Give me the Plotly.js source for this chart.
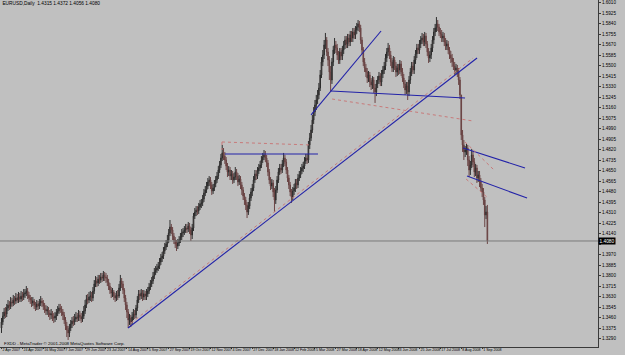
<!DOCTYPE html>
<html><head><meta charset="utf-8">
<script src="https://cdn.plot.ly/plotly-3.0.1.min.js"></script>
<style>html,body{margin:0;padding:0;background:#c0c0c0;}#chart{width:625px;height:355px;}</style>
</head><body><div id="chart"></div>
<script>
const symbolTitle = "EURUSD,Daily";
const dateLabels = ["2 Apr 2007","24 Apr 2007","16 May 2007","7 Jun 2007","29 Jun 2007","23 Jul 2007","14 Aug 2007","5 Sep 2007","27 Sep 2007","19 Oct 2007","12 Nov 2007","4 Dec 2007","27 Dec 2007","18 Jan 2008","12 Feb 2008","5 Mar 2008","27 Mar 2008","18 Apr 2008","12 May 2008","3 Jun 2008","25 Jun 2008","17 Jul 2008","8 Aug 2008","1 Sep 2008"];
const labelBars = [0,16,32,48,64,80,96,112,128,144,160,176,192,208,224,240,256,272,288,304,320,336,352,368];
const priceTicks = [1.6010,1.5925,1.5840,1.5755,1.5670,1.5585,1.5500,1.5415,1.5330,1.5245,1.5160,1.5075,1.4990,1.4905,1.4820,1.4735,1.4650,1.4565,1.4480,1.4395,1.4310,1.4225,1.4140,1.4055,1.3970,1.3885,1.3800,1.3715,1.3630,1.3545,1.3460,1.3375,1.3290,1.3205];

const openP = [
1.3375,1.3424,1.3472,1.3505,1.3489,1.3537,1.3562,1.3553,1.3586,1.3578,1.3602,1.3594,1.3618,1.3602,1.3626,1.3610,
1.3634,1.3626,1.3651,1.3659,1.3675,1.3643,1.3618,1.3602,1.3578,1.3594,1.3562,1.3545,1.3570,1.3553,1.3578,1.3594,
1.3578,1.3553,1.3529,1.3513,1.3521,1.3497,1.3481,1.3489,1.3464,1.3456,1.3472,1.3497,1.3513,1.3537,1.3529,1.3505,
1.3481,1.3440,1.3391,1.3359,1.3335,1.3375,1.3408,1.3432,1.3424,1.3448,1.3464,1.3456,1.3481,1.3464,1.3448,1.3472,
1.3513,1.3562,1.3610,1.3602,1.3626,1.3634,1.3618,1.3675,1.3732,1.3756,1.3740,1.3772,1.3764,1.3788,1.3780,1.3805,
1.3788,1.3780,1.3748,1.3715,1.3683,1.3659,1.3667,1.3634,1.3618,1.3643,1.3634,1.3699,1.3756,1.3732,1.3683,1.3618,
1.3562,1.3505,1.3440,1.3456,1.3424,1.3464,1.3489,1.3481,1.3537,1.3602,1.3651,1.3634,1.3659,1.3626,1.3651,1.3634,
1.3651,1.3675,1.3707,1.3732,1.3756,1.3796,1.3829,1.3845,1.3861,1.3877,1.3910,1.3942,1.3958,1.3999,1.4031,1.4056,
1.4088,1.4145,1.4193,1.4169,1.4120,1.4088,1.4056,1.4039,1.4064,1.4088,1.4112,1.4145,1.4153,1.4169,1.4185,1.4177,
1.4201,1.4169,1.4129,1.4185,1.4282,1.4315,1.4331,1.4323,1.4355,1.4380,1.4388,1.4420,1.4469,1.4493,1.4525,1.4558,
1.4574,1.4534,1.4485,1.4509,1.4542,1.4574,1.4606,1.4655,1.4696,1.4752,1.4793,1.4768,1.4736,1.4687,1.4639,1.4655,
1.4606,1.4623,1.4574,1.4598,1.4639,1.4606,1.4558,1.4582,1.4534,1.4493,1.4444,1.4412,1.4372,1.4315,1.4363,1.4428,
1.4477,1.4509,1.4574,1.4623,1.4606,1.4647,1.4671,1.4696,1.4736,1.4760,1.4777,1.4752,1.4712,1.4639,1.4574,1.4525,
1.4550,1.4477,1.4412,1.4493,1.4574,1.4639,1.4671,1.4655,1.4704,1.4752,1.4720,1.4655,1.4590,1.4534,1.4477,1.4436,
1.4485,1.4509,1.4550,1.4534,1.4590,1.4615,1.4647,1.4671,1.4687,1.4728,1.4752,1.4736,1.4858,1.4914,1.4979,1.5060,
1.5125,1.5182,1.5222,1.5263,1.5319,1.5425,1.5530,1.5587,1.5668,1.5708,1.5611,1.5546,1.5449,1.5384,1.5530,1.5627,
1.5668,1.5643,1.5587,1.5546,1.5611,1.5578,1.5627,1.5668,1.5708,1.5676,1.5724,1.5692,1.5749,1.5724,1.5773,1.5749,
1.5789,1.5813,1.5838,1.5805,1.5708,1.5627,1.5530,1.5481,1.5449,1.5400,1.5425,1.5368,1.5344,1.5384,1.5319,1.5287,
1.5352,1.5384,1.5416,1.5368,1.5433,1.5465,1.5497,1.5562,1.5611,1.5643,1.5587,1.5530,1.5481,1.5546,1.5497,1.5449,
1.5481,1.5465,1.5514,1.5449,1.5400,1.5352,1.5303,1.5335,1.5287,1.5384,1.5449,1.5497,1.5465,1.5546,1.5595,1.5643,
1.5627,1.5676,1.5708,1.5724,1.5692,1.5740,1.5676,1.5611,1.5562,1.5587,1.5643,1.5708,1.5773,1.5805,1.5838,1.5813,
1.5773,1.5757,1.5724,1.5740,1.5692,1.5659,1.5676,1.5627,1.5587,1.5562,1.5530,1.5497,1.5465,1.5481,1.5449,1.5384,
1.5263,1.4939,1.4858,1.4801,1.4817,1.4833,1.4736,1.4655,1.4696,1.4777,1.4720,1.4639,1.4671,1.4590,1.4615,1.4558,
1.4509,1.4477,1.4412,1.4291,1.4315];
const highP = [
1.3456,1.3505,1.3537,1.3545,1.3570,1.3602,1.3594,1.3626,1.3618,1.3643,1.3634,1.3659,1.3651,1.3667,1.3659,1.3675,
1.3667,1.3691,1.3691,1.3715,1.3699,1.3667,1.3643,1.3626,1.3626,1.3610,1.3586,1.3602,1.3594,1.3610,1.3634,1.3618,
1.3602,1.3578,1.3562,1.3553,1.3545,1.3521,1.3529,1.3513,1.3497,1.3505,1.3529,1.3553,1.3570,1.3570,1.3553,1.3529,
1.3505,1.3464,1.3424,1.3391,1.3408,1.3440,1.3464,1.3472,1.3489,1.3505,1.3497,1.3521,1.3513,1.3497,1.3513,1.3553,
1.3602,1.3643,1.3651,1.3667,1.3675,1.3667,1.3707,1.3764,1.3796,1.3788,1.3805,1.3805,1.3821,1.3821,1.3837,1.3829,
1.3821,1.3805,1.3772,1.3740,1.3707,1.3699,1.3683,1.3659,1.3675,1.3683,1.3732,1.3805,1.3780,1.3756,1.3699,1.3643,
1.3586,1.3529,1.3489,1.3481,1.3505,1.3529,1.3521,1.3562,1.3634,1.3683,1.3683,1.3691,1.3683,1.3683,1.3675,1.3691,
1.3707,1.3740,1.3764,1.3788,1.3829,1.3861,1.3877,1.3894,1.3910,1.3942,1.3975,1.3991,1.4031,1.4064,1.4088,1.4129,
1.4177,1.4250,1.4218,1.4193,1.4145,1.4112,1.4088,1.4096,1.4120,1.4145,1.4177,1.4185,1.4201,1.4218,1.4218,1.4234,
1.4226,1.4193,1.4218,1.4307,1.4347,1.4363,1.4363,1.4388,1.4412,1.4420,1.4453,1.4501,1.4525,1.4558,1.4590,1.4606,
1.4598,1.4558,1.4542,1.4574,1.4606,1.4639,1.4687,1.4728,1.4785,1.4858,1.4833,1.4801,1.4760,1.4712,1.4687,1.4679,
1.4655,1.4647,1.4631,1.4679,1.4663,1.4631,1.4615,1.4606,1.4558,1.4517,1.4469,1.4436,1.4396,1.4396,1.4461,1.4509,
1.4542,1.4606,1.4655,1.4655,1.4679,1.4704,1.4728,1.4768,1.4793,1.4817,1.4809,1.4777,1.4736,1.4663,1.4598,1.4582,
1.4574,1.4509,1.4525,1.4606,1.4671,1.4704,1.4704,1.4736,1.4793,1.4777,1.4744,1.4679,1.4615,1.4558,1.4501,1.4517,
1.4542,1.4582,1.4582,1.4623,1.4647,1.4679,1.4704,1.4720,1.4760,1.4785,1.4785,1.4890,1.4955,1.5020,1.5101,1.5165,
1.5222,1.5263,1.5303,1.5360,1.5465,1.5570,1.5627,1.5708,1.5765,1.5732,1.5643,1.5578,1.5497,1.5562,1.5659,1.5724,
1.5700,1.5676,1.5619,1.5643,1.5643,1.5659,1.5700,1.5740,1.5740,1.5757,1.5757,1.5781,1.5781,1.5805,1.5805,1.5821,
1.5846,1.5870,1.5862,1.5830,1.5732,1.5651,1.5562,1.5514,1.5481,1.5457,1.5449,1.5400,1.5416,1.5408,1.5352,1.5384,
1.5416,1.5449,1.5441,1.5465,1.5497,1.5530,1.5595,1.5643,1.5684,1.5668,1.5619,1.5562,1.5578,1.5570,1.5530,1.5514,
1.5514,1.5546,1.5538,1.5481,1.5433,1.5384,1.5368,1.5368,1.5416,1.5481,1.5530,1.5530,1.5578,1.5627,1.5676,1.5676,
1.5708,1.5740,1.5765,1.5757,1.5773,1.5765,1.5700,1.5643,1.5619,1.5676,1.5740,1.5805,1.5838,1.5894,1.5870,1.5838,
1.5805,1.5789,1.5773,1.5765,1.5724,1.5708,1.5700,1.5651,1.5619,1.5595,1.5562,1.5530,1.5514,1.5506,1.5481,1.5408,
1.5263,1.4979,1.4898,1.4849,1.4866,1.4858,1.4768,1.4728,1.4825,1.4809,1.4752,1.4704,1.4696,1.4647,1.4647,1.4590,
1.4542,1.4509,1.4436,1.4363,1.4372];
const lowP = [
1.3335,1.3400,1.3448,1.3456,1.3464,1.3513,1.3521,1.3529,1.3545,1.3553,1.3562,1.3570,1.3578,1.3578,1.3586,1.3586,
1.3594,1.3602,1.3618,1.3634,1.3610,1.3586,1.3570,1.3545,1.3553,1.3529,1.3513,1.3521,1.3521,1.3529,1.3553,1.3545,
1.3521,1.3497,1.3481,1.3481,1.3464,1.3440,1.3448,1.3432,1.3416,1.3424,1.3440,1.3472,1.3489,1.3497,1.3472,1.3440,
1.3408,1.3359,1.3302,1.3278,1.3302,1.3351,1.3375,1.3391,1.3400,1.3424,1.3424,1.3432,1.3432,1.3416,1.3424,1.3448,
1.3489,1.3537,1.3570,1.3578,1.3594,1.3586,1.3594,1.3651,1.3707,1.3707,1.3715,1.3732,1.3740,1.3748,1.3756,1.3756,
1.3740,1.3715,1.3683,1.3651,1.3618,1.3626,1.3602,1.3586,1.3594,1.3602,1.3618,1.3675,1.3699,1.3651,1.3586,1.3521,
1.3456,1.3375,1.3400,1.3383,1.3400,1.3440,1.3448,1.3456,1.3513,1.3578,1.3602,1.3610,1.3594,1.3602,1.3602,1.3602,
1.3626,1.3651,1.3683,1.3707,1.3732,1.3772,1.3805,1.3821,1.3837,1.3853,1.3886,1.3910,1.3934,1.3975,1.4007,1.4031,
1.4064,1.4120,1.4137,1.4088,1.4056,1.4023,1.3999,1.4015,1.4039,1.4064,1.4088,1.4112,1.4129,1.4145,1.4145,1.4153,
1.4137,1.4080,1.4096,1.4161,1.4258,1.4282,1.4291,1.4299,1.4331,1.4347,1.4363,1.4396,1.4444,1.4469,1.4501,1.4525,
1.4501,1.4453,1.4461,1.4485,1.4517,1.4550,1.4582,1.4631,1.4671,1.4728,1.4736,1.4704,1.4655,1.4598,1.4606,1.4574,
1.4574,1.4542,1.4550,1.4574,1.4574,1.4525,1.4534,1.4501,1.4453,1.4412,1.4372,1.4331,1.4266,1.4291,1.4339,1.4404,
1.4444,1.4485,1.4550,1.4574,1.4582,1.4623,1.4647,1.4671,1.4712,1.4736,1.4720,1.4679,1.4606,1.4542,1.4493,1.4501,
1.4436,1.4315,1.4380,1.4469,1.4550,1.4615,1.4623,1.4631,1.4679,1.4687,1.4623,1.4558,1.4501,1.4444,1.4388,1.4412,
1.4453,1.4477,1.4501,1.4509,1.4566,1.4590,1.4623,1.4639,1.4663,1.4704,1.4704,1.4712,1.4825,1.4890,1.4955,1.5028,
1.5092,1.5141,1.5190,1.5230,1.5295,1.5400,1.5497,1.5554,1.5635,1.5578,1.5497,1.5384,1.5287,1.5352,1.5497,1.5595,
1.5603,1.5546,1.5514,1.5514,1.5546,1.5546,1.5595,1.5635,1.5643,1.5643,1.5659,1.5659,1.5692,1.5692,1.5716,1.5716,
1.5757,1.5781,1.5773,1.5676,1.5595,1.5497,1.5449,1.5408,1.5360,1.5368,1.5327,1.5303,1.5311,1.5279,1.5198,1.5254,
1.5319,1.5352,1.5335,1.5335,1.5400,1.5433,1.5465,1.5530,1.5578,1.5554,1.5497,1.5449,1.5449,1.5465,1.5408,1.5416,
1.5425,1.5433,1.5416,1.5368,1.5319,1.5263,1.5271,1.5222,1.5254,1.5352,1.5416,1.5433,1.5433,1.5514,1.5562,1.5595,
1.5595,1.5643,1.5676,1.5659,1.5659,1.5643,1.5578,1.5522,1.5530,1.5554,1.5611,1.5676,1.5740,1.5773,1.5781,1.5740,
1.5724,1.5692,1.5692,1.5659,1.5627,1.5627,1.5595,1.5554,1.5522,1.5489,1.5465,1.5425,1.5433,1.5408,1.5344,1.5230,
1.4898,1.4801,1.4736,1.4760,1.4777,1.4687,1.4598,1.4615,1.4671,1.4679,1.4598,1.4606,1.4550,1.4558,1.4517,1.4477,
1.4436,1.4372,1.4193,1.4258,1.4056];
const closeP = [
1.3424,1.3472,1.3505,1.3489,1.3537,1.3562,1.3553,1.3586,1.3578,1.3602,1.3594,1.3618,1.3602,1.3626,1.3610,1.3634,
1.3626,1.3651,1.3659,1.3675,1.3643,1.3618,1.3602,1.3578,1.3594,1.3562,1.3545,1.3570,1.3553,1.3578,1.3594,1.3578,
1.3553,1.3529,1.3513,1.3521,1.3497,1.3481,1.3489,1.3464,1.3456,1.3472,1.3497,1.3513,1.3537,1.3529,1.3505,1.3481,
1.3440,1.3391,1.3359,1.3335,1.3375,1.3408,1.3432,1.3424,1.3448,1.3464,1.3456,1.3481,1.3464,1.3448,1.3472,1.3513,
1.3562,1.3610,1.3602,1.3626,1.3634,1.3618,1.3675,1.3732,1.3756,1.3740,1.3772,1.3764,1.3788,1.3780,1.3805,1.3788,
1.3780,1.3748,1.3715,1.3683,1.3659,1.3667,1.3634,1.3618,1.3643,1.3634,1.3699,1.3756,1.3732,1.3683,1.3618,1.3562,
1.3505,1.3440,1.3456,1.3424,1.3464,1.3489,1.3481,1.3537,1.3602,1.3651,1.3634,1.3659,1.3626,1.3651,1.3634,1.3651,
1.3675,1.3707,1.3732,1.3756,1.3796,1.3829,1.3845,1.3861,1.3877,1.3910,1.3942,1.3958,1.3999,1.4031,1.4056,1.4088,
1.4145,1.4193,1.4169,1.4120,1.4088,1.4056,1.4039,1.4064,1.4088,1.4112,1.4145,1.4153,1.4169,1.4185,1.4177,1.4201,
1.4169,1.4129,1.4185,1.4282,1.4315,1.4331,1.4323,1.4355,1.4380,1.4388,1.4420,1.4469,1.4493,1.4525,1.4558,1.4574,
1.4534,1.4485,1.4509,1.4542,1.4574,1.4606,1.4655,1.4696,1.4752,1.4793,1.4768,1.4736,1.4687,1.4639,1.4655,1.4606,
1.4623,1.4574,1.4598,1.4639,1.4606,1.4558,1.4582,1.4534,1.4493,1.4444,1.4412,1.4372,1.4315,1.4363,1.4428,1.4477,
1.4509,1.4574,1.4623,1.4606,1.4647,1.4671,1.4696,1.4736,1.4760,1.4777,1.4752,1.4712,1.4639,1.4574,1.4525,1.4550,
1.4477,1.4412,1.4493,1.4574,1.4639,1.4671,1.4655,1.4704,1.4752,1.4720,1.4655,1.4590,1.4534,1.4477,1.4436,1.4485,
1.4509,1.4550,1.4534,1.4590,1.4615,1.4647,1.4671,1.4687,1.4728,1.4752,1.4736,1.4858,1.4914,1.4979,1.5060,1.5125,
1.5182,1.5222,1.5263,1.5319,1.5425,1.5530,1.5587,1.5668,1.5708,1.5611,1.5546,1.5449,1.5384,1.5530,1.5627,1.5668,
1.5643,1.5587,1.5546,1.5611,1.5578,1.5627,1.5668,1.5708,1.5676,1.5724,1.5692,1.5749,1.5724,1.5773,1.5749,1.5789,
1.5813,1.5838,1.5805,1.5708,1.5627,1.5530,1.5481,1.5449,1.5400,1.5425,1.5368,1.5344,1.5384,1.5319,1.5287,1.5352,
1.5384,1.5416,1.5368,1.5433,1.5465,1.5497,1.5562,1.5611,1.5643,1.5587,1.5530,1.5481,1.5546,1.5497,1.5449,1.5481,
1.5465,1.5514,1.5449,1.5400,1.5352,1.5303,1.5335,1.5287,1.5384,1.5449,1.5497,1.5465,1.5546,1.5595,1.5643,1.5627,
1.5676,1.5708,1.5724,1.5692,1.5740,1.5676,1.5611,1.5562,1.5587,1.5643,1.5708,1.5773,1.5805,1.5838,1.5813,1.5773,
1.5757,1.5724,1.5740,1.5692,1.5659,1.5676,1.5627,1.5587,1.5562,1.5530,1.5497,1.5465,1.5481,1.5449,1.5384,1.5263,
1.4939,1.4858,1.4801,1.4817,1.4833,1.4736,1.4655,1.4696,1.4777,1.4720,1.4639,1.4671,1.4590,1.4615,1.4558,1.4509,
1.4477,1.4412,1.4291,1.4315,1.4080];

// hand-drawn trend lines (bar index, price)
const blueFromBar   = [96.9, 237.0, 252.3, 171.1, 353.4, 356.4];
const blueFromPrice = [1.3375, 1.5101, 1.5295, 1.4785, 1.4833, 1.4606];
const blueToBar     = [364.1, 290.6, 354.9, 242.3, 400.8, 402.4];
const blueToPrice   = [1.5562, 1.5781, 1.5238, 1.4785, 1.4671, 1.4428];
const redFromBar    = [99.2, 253.1, 168.8, 168.8, 354.9, 355.7];
const redFromPrice  = [1.3416, 1.5230, 1.4882, 1.4882, 1.4882, 1.4582];
const redToBar      = [361.0, 361.0, 236.2, 168.8, 377.9, 371.7];
const redToPrice    = [1.5562, 1.5052, 1.4858, 1.4817, 1.4647, 1.4436];

const bars = closeP.map((_, i) => i);
const n = closeP.length;
const last = n - 1;
const fmt = v => v.toFixed(4);

const FONT = "Liberation Sans Narrow, Liberation Sans, Arial, sans-serif";

// the bid marker covers the scale label right under it (as in the terminal)
const priceTickText = priceTicks.map(v => Math.abs(v - closeP[last]) < 0.0035 ? '' : fmt(v));

const trace = {
  type: 'candlestick', x: bars, open: openP, high: highP, low: lowP, close: closeP,
  increasing: {line: {color: '#2e2e2e', width: 1}, fillcolor: '#9c7474'},
  decreasing: {line: {color: '#6a4444', width: 1}, fillcolor: '#6a4444'},
  whiskerwidth: 0, hoverinfo: 'skip', showlegend: false
};

const shapes = [];
for (let i = 0; i < blueFromBar.length; i++) {
  shapes.push({type: 'line', xref: 'x', yref: 'y', x0: blueFromBar[i], y0: blueFromPrice[i], x1: blueToBar[i], y1: blueToPrice[i],
    line: {color: '#2222a8', width: 1.1}});
}
for (let i = 0; i < redFromBar.length; i++) {
  shapes.push({type: 'line', xref: 'x', yref: 'y', x0: redFromBar[i], y0: redFromPrice[i], x1: redToBar[i], y1: redToPrice[i],
    line: {color: '#c87a7a', width: 1, dash: 'dot'}});
}
shapes.push({type: 'line', xref: 'paper', yref: 'y', x0: 0, x1: 1, y0: closeP[last], y1: closeP[last], line: {color: '#7a7a7a', width: 1}});

const layout = {
  width: 625, height: 355,
  margin: {l: 0, r: 27, t: 0, b: 8},
  paper_bgcolor: '#c0c0c0', plot_bgcolor: '#c0c0c0',
  font: {family: FONT, size: 4.0, color: '#000'},
  title: {text: symbolTitle + '  ' + fmt(openP[last]) + ' ' + fmt(highP[last]) + ' ' + fmt(lowP[last]) + ' ' + fmt(closeP[last]),
    x: 0.004, xanchor: 'left', xref: 'paper', y: 0.996, yanchor: 'top', yref: 'container',
    font: {family: FONT, size: 4.8, color: '#000'}},
  xaxis: {range: [-1.15, 456.7], tickmode: 'array', tickvals: labelBars, ticktext: dateLabels, tickangle: 0,
    showgrid: false, zeroline: false, showline: true, linecolor: '#3a3a3a', linewidth: 1,
    ticks: 'outside', ticklen: 1, tickcolor: '#3a3a3a', ticklabelposition: 'outside right', ticklabelstandoff: -1,
    tickfont: {family: FONT, size: 3.6, color: '#000'}, rangeslider: {visible: false}, fixedrange: true},
  yaxis: {range: [1.32213, 1.6032], side: 'right', tickmode: 'array', tickvals: priceTicks, ticktext: priceTickText,
    showgrid: false, zeroline: false, showline: true, linecolor: '#3a3a3a', linewidth: 1,
    ticks: 'outside', ticklen: 2, tickcolor: '#3a3a3a', tickfont: {family: FONT, size: 4.6, color: '#000'}, fixedrange: true},
  shapes: shapes,
  annotations: [
    {xref: 'paper', yref: 'y', x: 1, y: closeP[last], xanchor: 'left', yanchor: 'middle', text: fmt(closeP[last]),
      showarrow: false, bgcolor: '#000', borderpad: 0.5, font: {family: FONT, size: 4.8, color: '#fff'}},
    {xref: 'paper', yref: 'paper', x: 0.003, y: 0.009, xanchor: 'left', yanchor: 'middle',
      text: 'FXDD - MetaTrader \u00a9 2001-2008 MetaQuotes Software Corp.', showarrow: false,
      font: {family: FONT, size: 4.4, color: '#000'}}
  ]
};

Plotly.newPlot('chart', [trace], layout, {staticPlot: true, displayModeBar: false});
</script>
</body></html>
